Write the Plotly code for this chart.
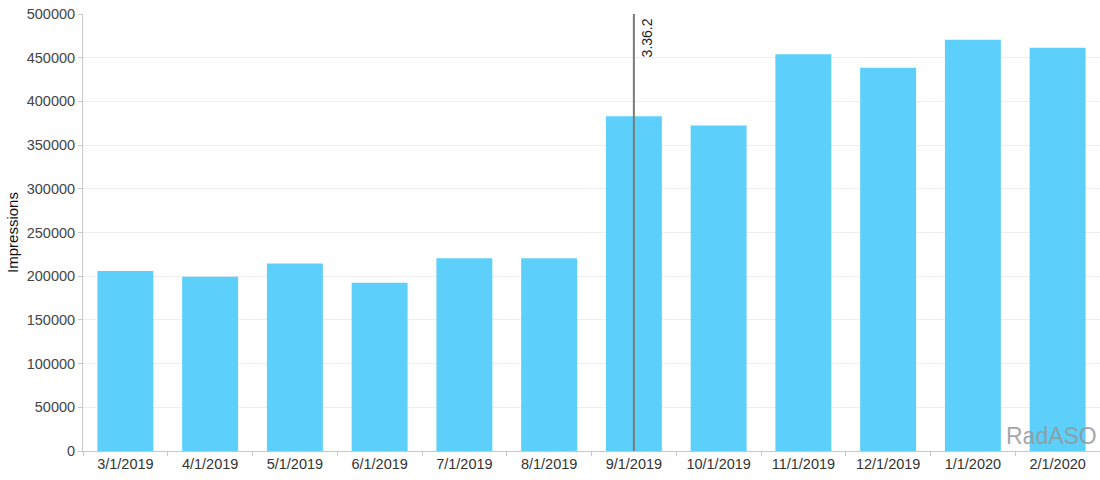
import plotly.graph_objects as go

months = ["3/1/2019", "4/1/2019", "5/1/2019", "6/1/2019", "7/1/2019", "8/1/2019",
          "9/1/2019", "10/1/2019", "11/1/2019", "12/1/2019", "1/1/2020", "2/1/2020"]
impressions = [206000, 199500, 214500, 192500, 220500, 220500,
               383000, 372500, 454000, 438500, 470500, 461500]
release_month = "9/1/2019"
release_label = "3.36.2"
y_ticks = [0, 50000, 100000, 150000, 200000, 250000, 300000, 350000, 400000, 450000, 500000]

fig = go.Figure()
fig.add_trace(go.Bar(x=months, y=impressions, marker_color="#5CD0FA",
                     marker_line_width=0, width=0.66))

fig.add_shape(type="line", xref="x", yref="paper", x0=release_month, x1=release_month,
              y0=0, y1=1, line=dict(color="#7a7a7a", width=2))
fig.add_annotation(x=release_month, xref="x", y=1, yref="paper", text=release_label,
                   textangle=-90, showarrow=False, xanchor="left", yanchor="top",
                   xshift=3, yshift=-2, font=dict(size=14, color="#222", family="Liberation Sans"))
fig.add_annotation(x=1, xref="paper", y=0, yref="paper", text="RadASO", showarrow=False,
                   xanchor="right", yanchor="bottom", xshift=-1, yshift=0,
                   font=dict(size=23, color="rgba(150,150,150,0.85)", family="Liberation Sans"))

fig.update_layout(
    width=1100, height=480,
    margin=dict(l=83, r=0, t=14, b=29),
    plot_bgcolor="white", paper_bgcolor="white",
    showlegend=False, bargap=0.34,
    font=dict(family="Liberation Sans", size=14, color="#444"),
)
fig.update_xaxes(type="category", showline=True, linecolor="#c8c8c8", linewidth=1,
                 ticks="outside", tickson="boundaries", ticklen=4, tickcolor="#c8c8c8",
                 showgrid=False, tickfont=dict(size=14.5, color="#333"))
fig.update_yaxes(range=[0, 500000], tickvals=y_ticks, ticktext=[str(v) for v in y_ticks],
                 showline=True, linecolor="#c8c8c8", linewidth=1,
                 ticks="outside", ticklen=4, tickcolor="#c8c8c8",
                 showgrid=True, gridcolor="#eeeeee", gridwidth=1, zeroline=False,
                 tickfont=dict(size=14.5, color="#444"),
                 title=dict(text="Impressions", font=dict(size=15, color="#111"), standoff=4))

fig.write_html("out.html")
